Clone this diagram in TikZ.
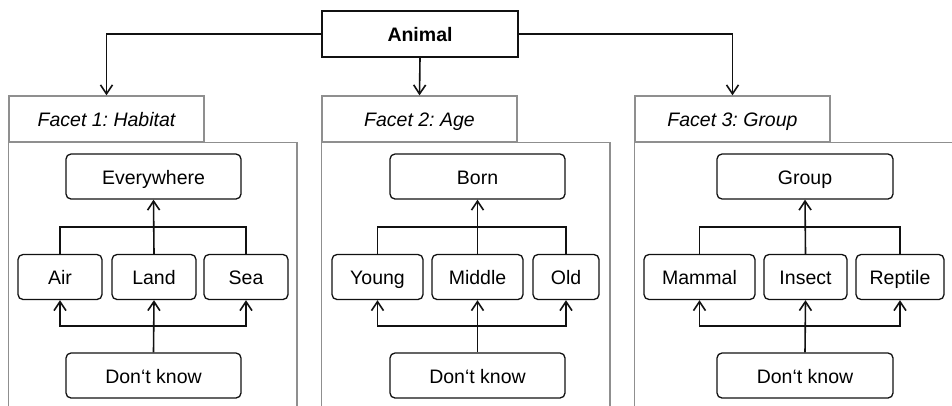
\documentclass[tikz,border=0pt]{standalone}
\usepackage{fontspec}
\setmainfont{Liberation Sans}
\usetikzlibrary{arrows.meta}
\definecolor{panelgray}{HTML}{8F8F8F}
\definecolor{ink}{HTML}{111111}
\frenchspacing
\tikzset{
  txt/.style={text height=15.5pt, text depth=0pt, inner sep=0pt},
  box/.style={txt, draw=ink, line width=1.3pt, rounded corners=5pt, minimum height=45pt, font=\fontsize{19.5}{23}\selectfont},
  topbox/.style={txt, draw=ink, line width=1.3pt, minimum width=196pt, minimum height=46pt, font=\fontsize{19.5}{23}\selectfont\bfseries},
  tab/.style={txt, draw=panelgray, line width=1.3pt, minimum width=195pt, minimum height=46pt, font=\fontsize{19.5}{23}\selectfont\itshape},
  panel/.style={draw=panelgray, line width=1.3pt},
  conn/.style={draw=ink, line width=1.6pt},
  arr/.style={conn, -{Straight Barb[length=9pt,width=12pt,line width=1.6pt]}}
}
\begin{document}
\begin{tikzpicture}[x=1pt,y=-1pt]
\useasboundingbox (0,0) rectangle (952,405);
\clip (0,0) rectangle (952,405);

% top
\node[topbox] (animal) at (420,34) {Animal};

% tabs
\node[tab] (t1) at (106.5,119) {Facet 1: Habitat};
\node[tab] (t2) at (419.5,119) {Facet 2: Age};
\node[tab] (t3) at (732.5,119) {Facet 3: Group};

% panels
\draw[panel] (t1.south west) rectangle (297,430);
\draw[panel] (t2.south west) rectangle (610,430);
\draw[panel] (t3.south west) rectangle (990,430);

\draw[arr] (animal.west) -| (t1.north);
\draw[arr] (animal.south) -- (t2.north);
\draw[arr] (animal.east) -| (t3.north);

\coordinate (yu) at (0,227);
\coordinate (yl) at (0,326);

% panel 1
\node[box, minimum width=175pt] (ev) at (153.5,176.5) {Everywhere};
\node[box, minimum width=84pt] (air) at (60,277) {Air};
\node[box, minimum width=84pt] (land) at (154,277) {Land};
\node[box, minimum width=84pt] (sea) at (246,277) {Sea};
\node[box, minimum width=175pt] (dk1) at (153.5,375.5) {Don‘t know};
\draw[conn] (air.north) |- (land.north |- yu) -| (sea.north);
\draw[arr] (land.north) -- (ev.south);
\draw[arr] (dk1.north) -- (land.south);
\draw[arr] (land.south |- yl) -| (air.south);
\draw[arr] (land.south |- yl) -| (sea.south);

% panel 2
\node[box, minimum width=175pt] (born) at (477.5,176.5) {Born};
\node[box, minimum width=91pt] (young) at (377.5,277) {Young};
\node[box, minimum width=91pt] (middle) at (477.5,277) {Middle};
\node[box, minimum width=66pt] (old) at (566,277) {Old};
\node[box, minimum width=175pt] (dk2) at (477.5,375.5) {Don‘t know};
\draw[conn] (young.north) |- (middle.north |- yu) -| (old.north);
\draw[arr] (middle.north) -- (born.south);
\draw[arr] (dk2.north) -- (middle.south);
\draw[arr] (middle.south |- yl) -| (young.south);
\draw[arr] (middle.south |- yl) -| (old.south);

% panel 3
\node[box, minimum width=176pt] (grp) at (805,176.5) {Group};
\node[box, minimum width=111pt] (mammal) at (699.5,277) {Mammal};
\node[box, minimum width=83pt] (insect) at (805.5,277) {Insect};
\node[box, minimum width=88pt] (reptile) at (900,277) {Reptile};
\node[box, minimum width=176pt] (dk3) at (805,375.5) {Don‘t know};
\draw[conn] (mammal.north) |- (insect.north |- yu) -| (reptile.north);
\draw[arr] (insect.north) -- (grp.south);
\draw[arr] (dk3.north) -- (insect.south);
\draw[arr] (insect.south |- yl) -| (mammal.south);
\draw[arr] (insect.south |- yl) -| (reptile.south);
\end{tikzpicture}
\end{document}
